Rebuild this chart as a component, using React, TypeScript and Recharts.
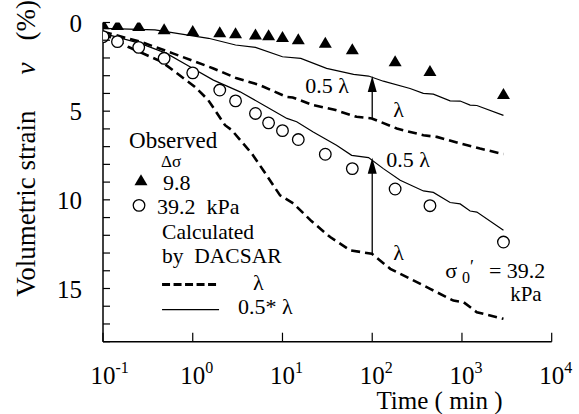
import React from 'react';
import { ComposedChart, Line, Scatter, XAxis, YAxis, ReferenceLine, ReferenceDot } from 'recharts';

const FONT = '"Liberation Serif", "Times New Roman", Times, serif';

// axis ticks
const xTicks = [0.1, 1, 10, 100, 1000, 10000];
const xTickExponents = ['-1', '0', '1', '2', '3', '4'];
const yTicks = [0, 1, 2, 3, 4, 5, 6, 7, 8, 9, 10, 11, 12, 13, 14, 15, 16, 17, 18];
const yTickLabels = [0, 5, 10, 15];

// observed (time in min, volumetric strain in %)
const obsTime = [0.1, 0.145, 0.25, 0.48, 1, 2, 3, 5, 7, 10, 15, 30, 60, 180, 440, 2900];
const obs98Strain = [0.1, 0.14, 0.2, 0.38, 0.48, 0.55, 0.61, 0.67, 0.72, 0.82, 0.95, 1.14, 1.51, 2.18, 2.74, 4.03];
const obs392Strain = [0.8, 1.08, 1.4, 2.02, 2.84, 3.81, 4.42, 5.13, 5.66, 6.1, 6.6, 7.43, 8.24, 9.39, 10.33, 12.38];

// calculated by DACSAR, 9.8 kPa, 0.5*lambda (solid)
const half98Time = [0.1, 0.38, 1.5, 3, 5, 10, 16, 31, 62, 91, 133, 264, 371, 480, 738, 955, 1233, 1466, 2900];
const half98Strain = [0.33, 0.42, 0.89, 1.27, 1.4, 1.93, 2.02, 2.59, 2.93, 3.02, 3.31, 3.72, 4.0, 4.04, 4.42, 4.43, 4.66, 4.68, 5.24];

// 9.8 kPa, lambda (dashed)
const full98Time = [0.1, 0.26, 0.6, 1.7, 3.1, 5.6, 11, 13, 22, 37, 67, 99, 188, 372, 525, 955, 1590, 2900];
const full98Strain = [0.52, 1.08, 1.74, 2.59, 3.15, 3.53, 4.19, 4.23, 4.66, 4.9, 5.32, 5.41, 5.98, 6.36, 6.45, 6.82, 7.11, 7.42];

// 39.2 kPa, 0.5*lambda (solid)
const half392Time = [0.1, 0.26, 0.51, 0.86, 1.7, 3.37, 6.7, 11.2, 14.4, 22, 40, 59, 91, 133, 205, 372, 480, 738, 955, 1233, 1466, 2900];
const half392Strain = [0.61, 1.18, 1.74, 2.4, 3.25, 3.91, 4.76, 5.41, 5.6, 6.17, 6.92, 7.49, 7.62, 8.24, 8.9, 9.5, 9.58, 10.15, 10.23, 10.63, 10.69, 11.72];

// 39.2 kPa, lambda (dashed)
const full392Time = [0.1, 0.19, 0.45, 1.06, 1.49, 2.29, 2.72, 4.55, 6.1, 9.4, 13.2, 21, 34, 57, 99, 159, 264, 442, 803, 1040, 1466, 2900];
const full392Strain = [0.61, 1.37, 2.21, 3.63, 4.38, 5.79, 6.07, 7.39, 8.33, 9.75, 10.2, 11.2, 12.1, 12.85, 13.04, 13.89, 14.45, 15.02, 15.68, 15.77, 16.34, 16.71];

// arrows at t = 100 min (from lambda curve up to 0.5 lambda curve)
const arrowTime = 100;
const arrowUpper = [5.41, 3.02];
const arrowLower = [13.04, 7.62];

const zip = (ts: number[], vs: number[]) => ts.map((t, i) => ({ t, v: vs[i] }));

const obs98 = zip(obsTime, obs98Strain);
const obs392 = zip(obsTime, obs392Strain);
const half98 = zip(half98Time, half98Strain);
const full98 = zip(full98Time, full98Strain);
const half392 = zip(half392Time, half392Strain);
const full392 = zip(full392Time, full392Strain);

const Triangle = ({ cx, cy }: any) => (
  <polygon points={`${cx},${cy - 6} ${cx - 6.5},${cy + 5} ${cx + 6.5},${cy + 5}`} fill="#000" />
);
const Circle = ({ cx, cy }: any) => (
  <circle cx={cx} cy={cy} r={5.8} fill="#fff" stroke="#000" strokeWidth={1.3} />
);

const YTick = ({ x, y, payload }: any) => (
  <g>
    <line x1={x} y1={y} x2={x + 7} y2={y} stroke="#000" strokeWidth={1.2} />
    {yTickLabels.includes(payload.value) && (
      <text x={x - 21} y={y + 9} textAnchor="end" fontSize={25} fontFamily={FONT} fill="#000">
        {payload.value}
      </text>
    )}
  </g>
);

const XTick = ({ x, y, payload, index }: any) => {
  const i = xTicks.indexOf(payload.value);
  return (
    <g>
      <line x1={x} y1={y} x2={x} y2={y - 9} stroke="#000" strokeWidth={1.2} />
      <text x={x - 12.5} y={y + 42} textAnchor="start" fontSize={25} fontFamily={FONT} fill="#000">
        10
        <tspan dy={-11} fontSize={16}>{xTickExponents[i >= 0 ? i : index]}</tspan>
      </text>
    </g>
  );
};

const YTitle = (props: any) => {
  const vb = props.viewBox || { x: 0, y: 22, width: 103, height: 320 };
  const bx = vb.x + 35;
  const by = vb.y + vb.height - 45;
  return (
    <text x={bx} y={by} transform={`rotate(-90 ${bx} ${by})`} fontSize={27} fontFamily={FONT} fill="#000">
      <tspan>Volumetric strain</tspan>
      <tspan dx={36} fontStyle="italic">v</tspan>
      <tspan dx={22}>(%)</tspan>
    </text>
  );
};

const XTitle = (props: any) => {
  const vb = props.viewBox || { x: 103, y: 342, width: 449, height: 72 };
  return (
    <text x={vb.x + vb.width * 0.75} y={vb.y + 67} textAnchor="middle" fontSize={25} fontFamily={FONT} fill="#000">
      Time ( min )
    </text>
  );
};

const txt = (s: string, size = 22) => (p: any) => (
  <text x={p.cx} y={p.cy} fontSize={size} fontFamily={FONT} fill="#000" style={/\s\s/.test(s) ? { whiteSpace: 'pre' } : undefined}>{s}</text>
);

const CalcLabel = (p: any) => (
  <text x={p.cx} y={p.cy} fontSize={21.5} fontFamily={FONT} fill="#000" style={{ whiteSpace: 'pre' }}>
    <tspan x={p.cx}>Calculated</tspan>
    <tspan x={p.cx} dy={24}>by  DACSAR</tspan>
  </text>
);

const Arrow = (p: any) => {
  const { x1, y1, x2, y2 } = p;
  const top = Math.min(y1, y2);
  const bottom = Math.max(y1, y2);
  return (
    <g>
      <line x1={x1} y1={bottom} x2={x1} y2={top + 14} stroke="#000" strokeWidth={1.3} />
      <polygon points={`${x1},${top} ${x1 - 4.5},${top + 16} ${x1 + 4.5},${top + 16}`} fill="#000" />
    </g>
  );
};

const SigmaLabel = (p: any) => (
  <text x={p.cx} y={p.cy} fontFamily={FONT} fill="#000" fontSize={22}>
    σ
    <tspan dx={5} dy={5} fontSize={16}>0</tspan>
    <tspan dx={0} dy={-10} fontSize={18}>′</tspan>
    <tspan dx={15} dy={5}>= 39.2</tspan>
  </text>
);

const LegendLine = (dashed: boolean) => (p: any) => (
  <line
    x1={p.cx}
    y1={p.cy}
    x2={p.cx + 57}
    y2={p.cy}
    stroke="#000"
    strokeWidth={dashed ? 3 : 1.2}
    strokeDasharray={dashed ? '8 3.5' : undefined}
  />
);

export default function App() {
  return (
    <div style={{ position: 'absolute', left: 0, top: 0, background: '#fff' }}>
      <ComposedChart width={579} height={414} margin={{ top: 22.5, right: 27.3, bottom: 0, left: 0 }}>
        <XAxis
          type="number"
          dataKey="t"
          scale="log"
          domain={[0.1, 10000]}
          ticks={xTicks}
          interval={0}
          height={72.3}
          tickSize={0}
          tickMargin={0}
          tickLine={false}
          tick={<XTick />}
          axisLine={{ stroke: '#000', strokeWidth: 1.5 }}
          label={<XTitle />}
          allowDataOverflow
        />
        <YAxis
          type="number"
          dataKey="v"
          reversed
          domain={[0, 18]}
          ticks={yTicks}
          interval={0}
          width={103}
          tickSize={0}
          tickMargin={0}
          tickLine={false}
          tick={<YTick />}
          axisLine={{ stroke: '#000', strokeWidth: 1.5 }}
          label={<YTitle />}
          allowDataOverflow
        />
        <Line data={half98} dataKey="v" stroke="#000" strokeWidth={1.2} dot={false} isAnimationActive={false} />
        <Line data={full98} dataKey="v" stroke="#000" strokeWidth={2.6} strokeDasharray="9 5" dot={false} isAnimationActive={false} />
        <Line data={half392} dataKey="v" stroke="#000" strokeWidth={1.2} dot={false} isAnimationActive={false} />
        <Line data={full392} dataKey="v" stroke="#000" strokeWidth={2.6} strokeDasharray="9 5" dot={false} isAnimationActive={false} />
        <Scatter data={obs98} dataKey="v" shape={<Triangle />} isAnimationActive={false} />
        <Scatter data={obs392} dataKey="v" shape={<Circle />} isAnimationActive={false} />

        <ReferenceLine segment={[{ x: arrowTime, y: arrowUpper[0] }, { x: arrowTime, y: arrowUpper[1] }]} shape={Arrow} />
        <ReferenceLine segment={[{ x: arrowTime, y: arrowLower[0] }, { x: arrowTime, y: arrowLower[1] }]} shape={Arrow} />

        {/* annotations */}
        <ReferenceDot x={17.9} y={3.98} r={0} shape={txt('0.5 λ')} />
        <ReferenceDot x={171} y={5.34} r={0} shape={txt('λ')} />
        <ReferenceDot x={143} y={8.16} r={0} shape={txt('0.5 λ')} />
        <ReferenceDot x={171} y={13.42} r={0} shape={txt('λ')} />
        <ReferenceDot x={650} y={14.43} r={0} shape={SigmaLabel} />
        <ReferenceDot x={3444} y={15.72} r={0} shape={txt('kPa', 21)} />

        {/* legend */}
        <ReferenceDot x={0.195} y={7.09} r={0} shape={txt('Observed', 23)} />
        <ReferenceDot x={0.444} y={8.15} r={0} shape={txt('Δσ', 17)} />
        <ReferenceDot x={0.265} y={8.9} r={0} shape={<Triangle />} />
        <ReferenceDot x={0.467} y={9.45} r={0} shape={txt('9.8', 22)} />
        <ReferenceDot x={0.252} y={10.31} r={0} shape={<Circle />} />
        <ReferenceDot x={0.4} y={10.82} r={0} shape={txt('39.2  kPa', 22)} />
        <ReferenceDot x={0.455} y={12.23} r={0} shape={CalcLabel} />
        <ReferenceDot x={0.455} y={14.77} r={0} shape={LegendLine(true)} />
        <ReferenceDot x={4.7} y={15.1} r={0} shape={txt('λ')} />
        <ReferenceDot x={0.455} y={16.19} r={0} shape={LegendLine(false)} />
        <ReferenceDot x={3.2} y={16.45} r={0} shape={txt('0.5* λ')} />
      </ComposedChart>
    </div>
  );
}
